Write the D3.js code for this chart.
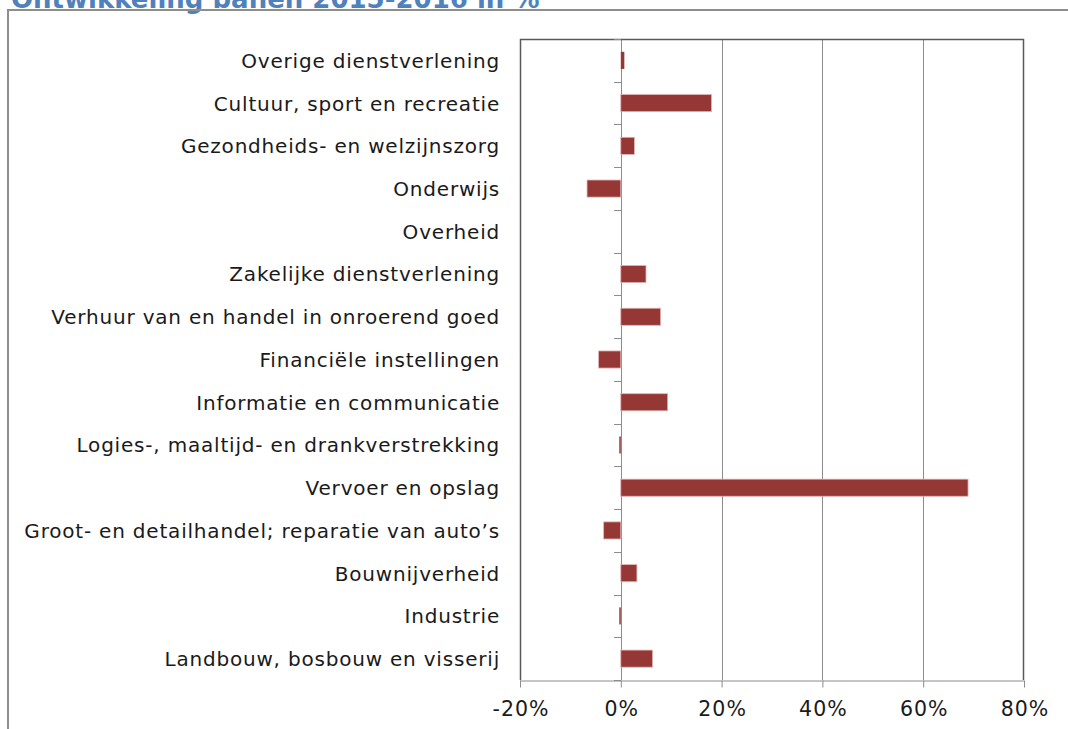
<!DOCTYPE html>
<html>
<head>
<meta charset="utf-8">
<script src="https://cdn.jsdelivr.net/npm/d3@7"></script>
<style>
  html, body { margin: 0; padding: 0; background: #fff; }
  svg { display: block; }
</style>
</head>
<body>
<svg id="chart" width="1068" height="729"></svg>
<script>
// Data (top to bottom)
const categories = [
  "Overige dienstverlening",
  "Cultuur, sport en recreatie",
  "Gezondheids- en welzijnszorg",
  "Onderwijs",
  "Overheid",
  "Zakelijke dienstverlening",
  "Verhuur van en handel in onroerend goed",
  "Financiële instellingen",
  "Informatie en communicatie",
  "Logies-, maaltijd- en drankverstrekking",
  "Vervoer en opslag",
  "Groot- en detailhandel; reparatie van auto’s",
  "Bouwnijverheid",
  "Industrie",
  "Landbouw, bosbouw en visserij"
];
const values = [0.7, 18.0, 2.7, -6.7, 0, 5.0, 7.9, -4.4, 9.3, -0.3, 68.9, -3.4, 3.2, -0.3, 6.3];
const xTicks = [-20, 0, 20, 40, 60, 80];
const title = "Ontwikkeling banen 2015-2016 in %";

const FONT = "'DejaVu Sans', Verdana, sans-serif";
const BAR_COLOR = "#953735";
const GRID_COLOR = "#8c8c8c";

const svg = d3.select("#chart");

// ── Frame and title ─────────────────────────────────────────────────────
svg.append("text")
  .attr("x", 11).attr("y", 8)
  .attr("fill", "#4f81bd")
  .style("font-family", FONT)
  .style("font-weight", "bold")
  .style("font-size", "26px")
  .text(title);

svg.append("path")
  .attr("d", "M8,740V10H1080")
  .attr("fill", "none")
  .attr("stroke", "#8e8e8e")
  .attr("stroke-width", 2);

// ── Plot ────────────────────────────────────────────────────────────────
const plotLeft = 520, plotTop = 39, plotRight = 1024, plotBottom = 680;

const x = d3.scaleLinear().domain([-20, 80]).range([plotLeft, plotRight]);
const y = d3.scaleBand().domain(categories).range([plotTop, plotBottom])
  .paddingInner(0.6).paddingOuter(0.3);

// Gridlines
svg.append("g")
  .selectAll("line")
  .data(xTicks.filter(d => d !== -20 && d !== 80))
  .enter().append("line")
  .attr("x1", d => Math.round(x(d)) + 0.5).attr("x2", d => Math.round(x(d)) + 0.5)
  .attr("y1", plotTop).attr("y2", plotBottom)
  .attr("stroke", GRID_COLOR)
  .attr("stroke-width", 1);

// Bars
svg.append("g")
  .selectAll("rect")
  .data(values)
  .enter().append("rect")
  .attr("x", d => x(Math.min(0, d)))
  .attr("y", (d, i) => y(categories[i]))
  .attr("width", d => Math.abs(x(d) - x(0)))
  .attr("height", y.bandwidth())
  .attr("fill", BAR_COLOR)
  .attr("stroke", d => Math.abs(d) < 1 ? "none" : "#e3b4b3")
  .attr("stroke-width", 0.8);

// Plot border (left, top, right)
svg.append("path")
  .attr("d", `M${plotLeft + 0.5},${plotBottom}V${plotTop + 0.5}H${plotRight - 0.5}V${plotBottom}`)
  .attr("fill", "none")
  .attr("stroke", "#595959")
  .attr("stroke-width", 1.5);

// Category axis labels
const yAxis = d3.axisLeft(y).tickSize(0).tickPadding(0).tickFormat(d => d);
const yg = svg.append("g")
  .attr("transform", `translate(${plotLeft - 20},1)`)
  .call(yAxis);
yg.select(".domain").remove();
yg.selectAll("text")
  .attr("x", 0)
  .attr("fill", "#1a1a1a")
  .style("font-family", FONT)
  .style("font-size", "20px")
  .style("letter-spacing", "0.8px");

// Ticks on the zero line at band boundaries
const boundaries = d3.range(categories.length + 1).map(i => plotTop + i * y.step());
svg.append("g")
  .selectAll("line")
  .data(boundaries)
  .enter().append("line")
  .attr("x1", Math.round(x(0)) - 7).attr("x2", Math.round(x(0)))
  .attr("y1", d => Math.round(d) + 0.5).attr("y2", d => Math.round(d) + 0.5)
  .attr("stroke", GRID_COLOR);

// Value axis
const xAxis = d3.axisBottom(x).tickValues(xTicks).tickSize(7).tickPadding(14)
  .tickFormat(d => `${d}%`);
const xg = svg.append("g")
  .attr("transform", `translate(0,${plotBottom + 0.5})`)
  .call(xAxis);
xg.select(".domain").attr("stroke", GRID_COLOR).attr("d", `M${plotLeft},0.5H${plotRight}`);
xg.selectAll(".tick line").attr("stroke", GRID_COLOR);
xg.selectAll("text")
  .attr("fill", "#1a1a1a")
  .attr("dx", "0.5px")
  .style("font-family", FONT)
  .style("font-size", "20.5px")
  .style("letter-spacing", "1px");
</script>
</body>
</html>
